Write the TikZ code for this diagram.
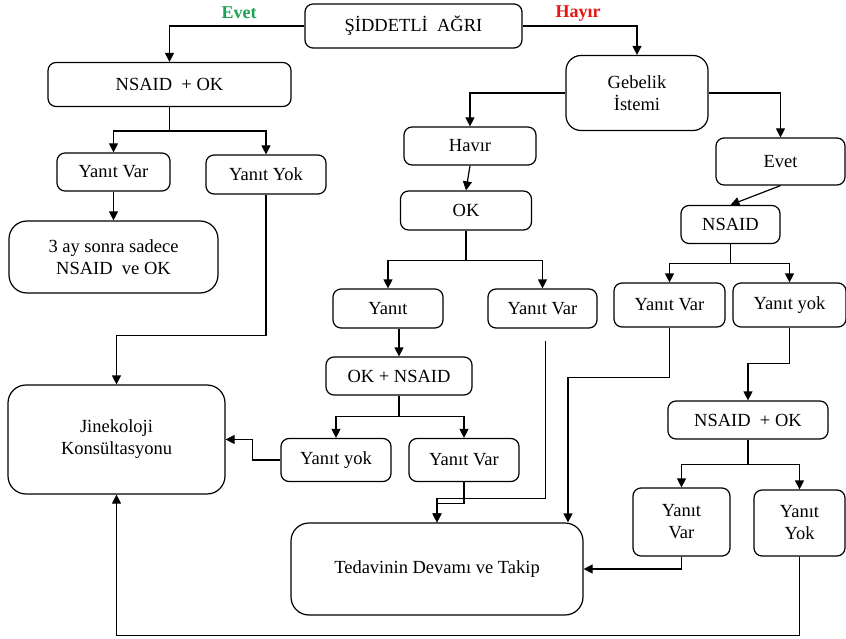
\documentclass[tikz,border=0pt]{standalone}
\usepackage{fontspec}
\setmainfont{Liberation Serif}
\usetikzlibrary{arrows.meta}

\begin{document}
\begin{tikzpicture}[x=1pt, y=-1pt, font=\fontsize{18.5}{22}\selectfont,
    box/.style={draw, line width=1.2pt, rounded corners=8pt, align=center, inner sep=0pt},
    bigbox/.style={box, rounded corners=18pt},
    line/.style={line width=1.2pt},
    arr/.style={line width=1.2pt, -{Triangle[length=9pt,width=9pt]}}]

    \definecolor{evetColour}{HTML}{1BA352}
    \definecolor{hayirColour}{HTML}{E81313}

    \useasboundingbox (0,0) rectangle (846,639);

    % Start box and answers
    \node[box, minimum width=217pt, minimum height=44pt] (agri) at (413.5,26) {ŞİDDETLİ~ AĞRI};
    \node[font=\fontsize{18}{20}\selectfont\bfseries, text=evetColour] (evetLbl) at (239,13) {Evet};
    \node[font=\fontsize{18}{20}\selectfont\bfseries, text=hayirColour] (hayirLbl) at (578,14) {Hayır};

    % Left branch
    \node[box, minimum width=243pt, minimum height=44pt] (nsaidA) at (169.5,84.5) {NSAID~ + OK};
    \node[box, minimum width=113pt, minimum height=38pt] (varA) at (113.5,172) {Yanıt Var};
    \node[box, minimum width=120pt, minimum height=39pt] (yokA) at (266,174.5) {Yanıt Yok};
    \node[bigbox, minimum width=209pt, minimum height=72pt] (ayA) at (113.5,257) {3 ay sonra sadece\\NSAID~ ve OK};
    \node[bigbox, minimum width=217pt, minimum height=109pt] (jin) at (116.5,439.5) {Jinekoloji\\Konsültasyonu};

    % Middle branch
    \node[bigbox, rounded corners=15pt, minimum width=142pt, minimum height=75pt] (geb) at (637,93) {Gebelik\\İstemi};
    \node[box, minimum width=132pt, minimum height=38pt] (havir) at (470,146) {Havır};
    \node[box, minimum width=131pt, minimum height=39pt] (ok) at (466,210.5) {OK};
    \node[box, minimum width=110pt, minimum height=39pt] (yanit) at (388,308.5) {Yanıt};
    \node[box, minimum width=109pt, minimum height=39pt] (varB) at (542.5,308.5) {Yanıt Var};
    \node[box, minimum width=146pt, minimum height=38pt] (oknsaid) at (399,376) {OK + NSAID};
    \node[box, minimum width=110pt, minimum height=43pt] (yokC) at (336,460) {Yanıt yok};
    \node[box, minimum width=110pt, minimum height=43pt] (varC) at (464,460) {Yanıt Var};
    \node[bigbox, minimum width=292pt, minimum height=92pt] (ted) at (437,569) {Tedavinin Devamı ve Takip};

    % Right branch
    \node[box, minimum width=129pt, minimum height=47pt] (evet) at (780.5,161.5) {Evet};
    \node[box, minimum width=99pt, minimum height=38pt] (nsaid) at (730.5,224.5) {NSAID};
    \node[box, minimum width=111pt, minimum height=44pt] (varD) at (669.5,305) {Yanıt Var};
    \node[box, minimum width=113pt, minimum height=44pt] (yokD) at (789.5,305) {Yanıt yok};
    \node[box, minimum width=160pt, minimum height=38pt] (nsaidB) at (748,420) {NSAID~ + OK};
    \node[box, minimum width=97pt, minimum height=68pt] (varE) at (681.5,522) {Yanıt\\Var};
    \node[box, minimum width=91pt, minimum height=66pt] (yokE) at (799.5,523) {Yanıt\\Yok};

    % Connectors from the start box
    \draw[arr] (agri.west) -| (nsaidA.north);
    \draw[arr] (agri.east) -| (geb.north);

    % Connectors, left branch
    \draw[line] (nsaidA.south) -- ++(0,24) coordinate (splitA);
    \draw[arr] (splitA) -| (varA.north);
    \draw[arr] (splitA) -| (yokA.north);
    \draw[arr] (varA.south) -- (ayA.north);
    \draw[arr] (yokA.south) -- ++(0,141) -| (jin.north);

    % Connectors, middle branch
    \draw[arr] (geb.west) -| (havir.north);
    \draw[arr] (havir.south) -- (ok.north);
    \draw[line] (ok.south) -- ++(0,30) coordinate (splitB);
    \draw[arr] (splitB) -| (yanit.north);
    \draw[arr] (splitB) -| (varB.north);
    \draw[arr] (yanit.south -| oknsaid.north) -- (oknsaid.north);
    \draw[line] (oknsaid.south) -- ++(0,21) coordinate (splitC);
    \draw[arr] (splitC) -| (yokC.north);
    \draw[arr] (splitC) -| (varC.north);
    \draw[arr] (yokC.west) -- ++(-28,0) |- (jin.east);
    \draw[arr] (varC.south) -- ++(0,21) -| (ted.north);
    \draw[arr, shorten <=12pt] ([xshift=3pt]varB.south) -- ++(0,170) -| (ted.north);

    % Connectors, right branch
    \draw[arr] (geb.east) -| (evet.north);
    \draw[arr] (evet.south) -- (nsaid.north);
    \draw[line] (nsaid.south) -- ++(0,19) coordinate (splitD);
    \draw[arr] (splitD) -| (varD.north);
    \draw[arr] (splitD) -| (yokD.north);
    \draw[arr] (varD.south) -- ++(0,50) -| ([xshift=131pt]ted.north);
    \draw[arr] (yokD.south) -- ++(0,36) -| (nsaidB.north);
    \draw[line] (nsaidB.south) -- ++(0,25) coordinate (splitE);
    \draw[arr] (splitE) -| (varE.north);
    \draw[arr] (splitE) -| (yokE.north);
    \draw[arr] (varE.south) |- (ted.east);
    \draw[arr] (yokE.south) -- ++(0,79) -| (jin.south);

\end{tikzpicture}
\end{document}
